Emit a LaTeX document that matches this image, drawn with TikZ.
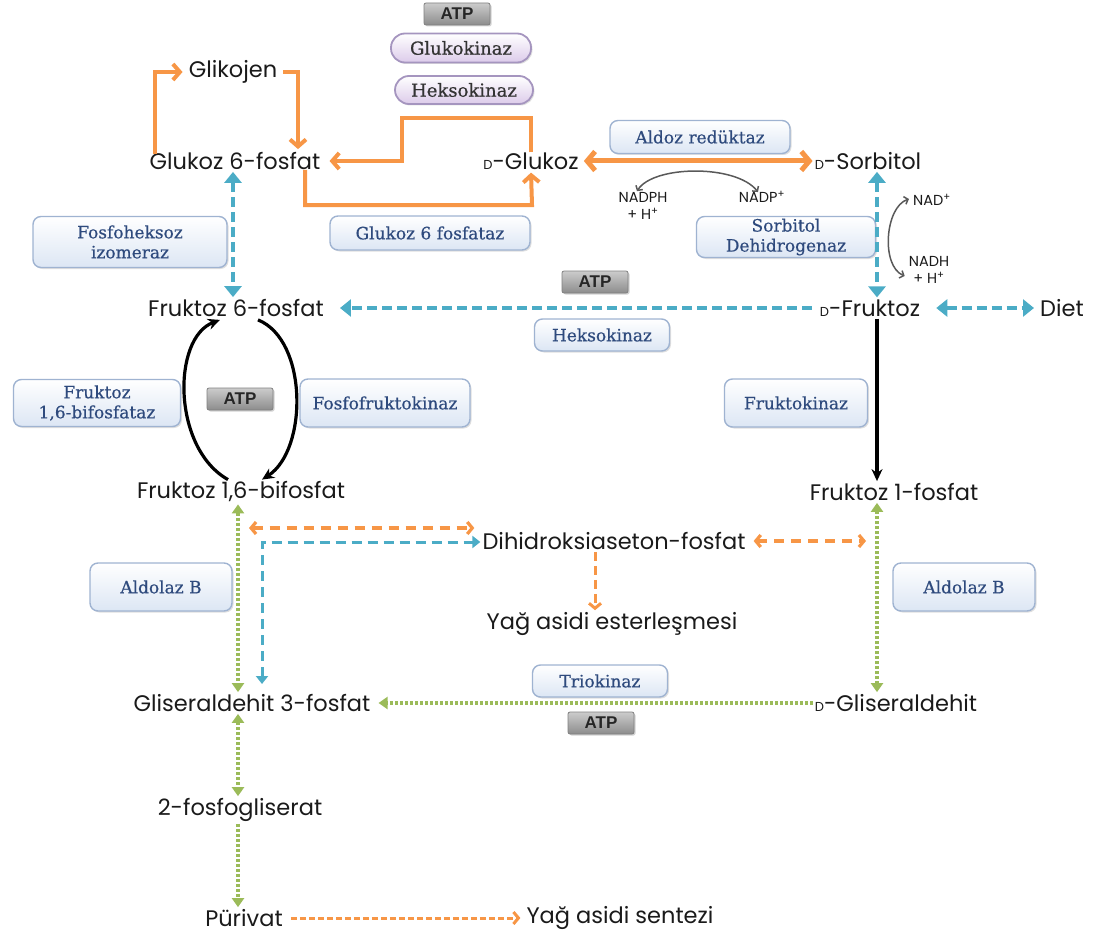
\documentclass[tikz,border=0pt]{standalone}
\usepackage{fontspec}
\setmainfont{Poppins}
\newfontfamily\enzfont[FakeBold=0.5]{DejaVu Serif}
\newfontfamily\atpfont{Liberation Sans}
\usetikzlibrary{arrows.meta,shadows,calc}
\definecolor{orng}{HTML}{F79646}
\definecolor{aqua}{HTML}{4BACC6}
\definecolor{olive}{HTML}{9BBB59}
\definecolor{grayarc}{HTML}{595959}
\definecolor{enzc}{HTML}{2E4A7D}
\definecolor{bordc}{HTML}{9FB3D1}
\definecolor{boxc}{HTML}{DCE6F4}
\definecolor{pillb}{HTML}{A595BF}
\definecolor{pillc}{HTML}{DCCBEA}
\definecolor{molc}{HTML}{1A1A1A}
\tikzset{
  bltip/.tip={Triangle[length=11pt,width=17pt]},
  grtip/.tip={Triangle[length=9pt,width=12pt]},
  bltipS/.tip={Triangle[length=8pt,width=12pt]},
  orbarb/.tip={Straight Barb[length=5pt,width=12pt]}
}
\begin{document}
\begin{tikzpicture}[x=1pt,y=-1pt,
  mol/.style={font=\fontsize{22.5}{26}\selectfont, text=molc, inner sep=2pt},
  sml/.style={font=\fontsize{14.5}{17}\selectfont, text=molc, inner sep=1pt, align=center},
  enz/.style={rounded corners=8pt, draw=bordc, line width=1.4pt, top color=white, bottom color=boxc,
     drop shadow={opacity=0.25,shadow xshift=1.5pt,shadow yshift=-1.5pt},
     text=enzc, font=\enzfont\fontsize{17}{20}\selectfont, align=center, inner sep=1pt},
  pill/.style={rounded corners=14pt, draw=pillb, line width=1.8pt, top color=white, bottom color=pillc,
     drop shadow={opacity=0.25,shadow xshift=1.5pt,shadow yshift=-1.5pt},
     text=black!80, font=\enzfont\fontsize{18}{20}\selectfont, inner sep=1pt},
  atp/.style={rounded corners=2pt, draw=black!50, line width=0.8pt, top color=black!20, bottom color=black!45,
     drop shadow={opacity=0.35,shadow xshift=1.5pt,shadow yshift=-1.5pt},
     font=\atpfont\bfseries\fontsize{17}{18}\selectfont, text=black!85, minimum width=66pt, minimum height=22pt, inner sep=0pt},
  orar/.style={draw=orng, line width=4pt, -{Straight Barb[length=7pt,width=16pt]}},
  ordash/.style={draw=orng, line width=3.2pt, dash pattern=on 10pt off 7pt, orbarb-orbarb},
  blar/.style={draw=aqua, line width=4pt, dash pattern=on 10pt off 5pt},
  grn/.style={draw=olive, line width=4pt, dash pattern=on 3pt off 2pt},
  blk/.style={draw=black, line width=3.2pt, -{Stealth[length=12pt,width=11pt]}},
  garc/.style={draw=grayarc, line width=1.5pt, {Straight Barb[length=3.5pt,width=8pt]}-{Straight Barb[length=3.5pt,width=8pt]}}
]
\useasboundingbox (0,0) rectangle (1101,939);

% ---------- metabolites ----------
\node[mol] (glik) at (233,72) {Glikojen};
\node[mol] (g6p)  at (235,161) {Glukoz 6-fosfat};
\node[mol] (glc)  at (531,161) {{\fontsize{13}{13}\selectfont D}-Glukoz};
\node[mol] (sorb) at (868,161) {{\fontsize{13}{13}\selectfont D}-Sorbitol};
\node[mol] (f6p)  at (236,308) {Fruktoz 6-fosfat};
\node[mol] (fru)  at (870,308) {{\fontsize{13}{13}\selectfont D}-Fruktoz};
\node[mol] (diet) at (1062,308) {Diet};
\node[mol] (f16)  at (241,492) {Fruktoz 1,6-bifosfat};
\node[mol] (f1p)  at (894,492) {Fruktoz 1-fosfat};
\node[mol] (dhap) at (614,541) {Dihidroksiaseton-fosfat};
\node[mol] (yae)  at (612,624) {Yağ asidi esterleşmesi};
\node[mol] (g3p)  at (252,703) {Gliseraldehit 3-fosfat};
\node[mol] (dgl)  at (896,703) {{\fontsize{13}{13}\selectfont D}-Gliseraldehit};
\node[mol] (pg2)  at (240,810) {2-fosfogliserat};
\node[mol] (pyr)  at (244,918) {Pürivat};
\node[mol] (yas)  at (620,918) {Yağ asidi sentezi};

% ---------- cofactors ----------
\node[sml] (nadph) at (643,206) {NADPH\\+ H\textsuperscript{+}};
\node[sml] (nadp)  at (762,197) {NADP\textsuperscript{+}};
\node[sml] (nad)   at (932,200) {NAD\textsuperscript{+}};
\node[sml] (nadh)  at (929,270) {NADH\\+ H\textsuperscript{+}};

% ---------- enzymes ----------
\node[pill] (glk) at (461,48) [minimum width=140pt, minimum height=29pt] {Glukokinaz};
\node[pill] (hk1) at (464,90) [minimum width=138pt, minimum height=28pt] {Heksokinaz};
\node[atp] (atp1) at (457,14) {ATP};
\node[enz] (ear)  at (700,137) [minimum width=180pt, minimum height=33pt] {Aldoz redüktaz};
\node[enz] (esdh) at (786,237) [minimum width=179pt, minimum height=41pt] {Sorbitol\\Dehidrogenaz};
\node[enz] (eg6f) at (430,233) [minimum width=200pt, minimum height=34pt] {Glukoz 6 fosfataz};
\node[enz] (efhi) at (130,242) [minimum width=194pt, minimum height=51pt] {Fosfoheksoz\\izomeraz};
\node[atp] (atp2) at (595,282) {ATP};
\node[enz] (ehk)  at (602,335) [minimum width=135pt, minimum height=32pt] {Heksokinaz};
\node[enz] (efbp) at (97,403)  [minimum width=167pt, minimum height=47pt] {Fruktoz\\1,6-bifosfataz};
\node[atp] (atp3) at (240,399) {ATP};
\node[enz] (epfk) at (385,403) [minimum width=170pt, minimum height=48pt] {Fosfofruktokinaz};
\node[enz] (efk)  at (796,403) [minimum width=143pt, minimum height=48pt] {Fruktokinaz};
\node[enz] (eal1) at (161,587) [minimum width=142pt, minimum height=48pt] {Aldolaz B};
\node[enz] (eal2) at (964,587) [minimum width=142pt, minimum height=48pt] {Aldolaz B};
\node[enz] (etk)  at (600,681) [minimum width=135pt, minimum height=32pt] {Triokinaz};
\node[atp] (atp4) at (601,723) {ATP};

% ---------- helper coordinates ----------
\coordinate (c1) at (402,118);
\coordinate (c2) at (532,205);
\coordinate (oA) at (249,528);
\coordinate (bA) at (262,684);
\coordinate (oB) at (866,541);

% ---------- orange solid ----------
\draw[orar] ([xshift=-80pt,yshift=-4pt]g6p.north) |- ([xshift=-4pt]glik.west);
\draw[orar] ([xshift=4pt]glik.east) -| ([xshift=63pt,yshift=1pt]g6p.north);
\draw[orar] ([yshift=-2pt]glc.north) |- (c1) |- ([xshift=7pt]g6p.east);
\draw[orar] ([xshift=70pt,yshift=2pt]g6p.south) |- (c2) -- ([yshift=-1pt]glc.south);
\draw[draw=orng, line width=5pt, {Straight Barb[length=8pt,width=19pt]}-{Straight Barb[length=8pt,width=19pt]}] ([xshift=3pt]glc.east) -- (sorb.west);

% ---------- gray cofactor arcs ----------
\draw[garc] ([xshift=-6pt]nadph.north) .. controls +(16,-26) and +(-22,-28) .. ([xshift=-4pt,yshift=-2pt]nadp.north);
\draw[garc] ([xshift=-3pt,yshift=1pt]nad.west) .. controls +(-24,8) and +(-24,-10) .. ([xshift=-3pt,yshift=-6pt]nadh.west);

% ---------- blue dashed ----------
\draw[blar, bltip-bltip] ([xshift=-2pt]g6p.south) -- ([xshift=-3pt]f6p.north);
\draw[blar, bltip-bltip] ([xshift=9pt]sorb.south) -- ([xshift=7pt]fru.north);
\draw[blar, -bltip] ([xshift=-6pt]fru.west) -- ([xshift=14pt]f6p.east);
\draw[blar, bltip-bltip] ([xshift=14pt]fru.east) -- ([xshift=-4pt]diet.west);
\draw[draw=aqua, line width=3pt, dash pattern=on 10pt off 6pt, bltipS-bltipS] (bA) |- ([yshift=-1pt]dhap.west);

% ---------- black ----------
\draw[blk] ([xshift=7pt]fru.south) -- ([xshift=-17pt]f1p.north);
\draw[blk] ([xshift=-13pt]f16.north) .. controls (172,448) and (172,338) .. ([xshift=-16pt,yshift=-1pt]f6p.south);
\draw[blk] ([xshift=22pt,yshift=-1pt]f6p.south) .. controls (308,340) and (308,450) .. ([xshift=21pt]f16.north);

% ---------- green dotted ----------
\draw[grn, grtip-grtip] ([xshift=-3pt]f16.south) -- ([xshift=-14pt]g3p.north);
\draw[grn, grtip-grtip] ([xshift=-17pt]f1p.south) -- ([xshift=-19pt]dgl.north);
\draw[grn, -grtip] (dgl.west) -- ([xshift=6pt]g3p.east);
\draw[grn, grtip-grtip] ([xshift=-14pt]g3p.south) -- ([xshift=-2pt]pg2.north);
\draw[grn, -grtip] ([xshift=-2pt]pg2.south) -- ([xshift=-6pt]pyr.north);

% ---------- orange dashed ----------
\draw[ordash] (oA) -- ([xshift=-6pt]oA -| dhap.west);
\draw[ordash] ([xshift=6pt]dhap.east) -- (oB);
\draw[draw=orng, line width=3pt, dash pattern=on 9pt off 5pt, -{Straight Barb[length=5pt,width=12pt]}] ([xshift=-19pt]dhap.south) -- ([xshift=-17pt]yae.north);
\draw[draw=orng, line width=3pt, dash pattern=on 6pt off 3pt, -{Straight Barb[length=5pt,width=12pt]}] ([xshift=6pt]pyr.east) -- ([xshift=-4pt]yas.west);
\end{tikzpicture}
\end{document}
